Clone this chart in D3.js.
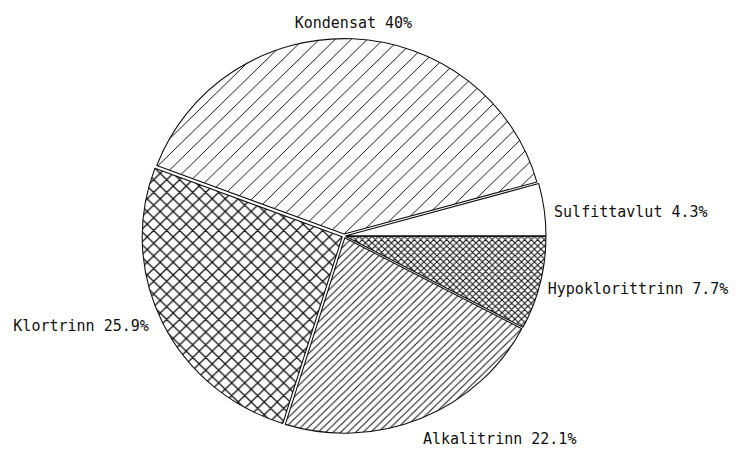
<!DOCTYPE html>
<html>
<head>
<meta charset="utf-8">
<script src="https://cdn.jsdelivr.net/npm/d3@7"></script>
<style>
  body { margin: 0; background: #fff; }
  text { font-family: "DejaVu Sans Mono", monospace; fill: #111; }
</style>
</head>
<body>
<svg id="chart"></svg>
<script>
var width = 738,
    height = 449

var labels = ["Kondensat", "Sulfittavlut", "Hypoklorittrinn", "Alkalitrinn", "Klortrinn"];
var values = [40, 4.3, 7.7, 22.1, 25.9];
var valueLabels = ["40%", "4.3%", "7.7%", "22.1%", "25.9%"];
var fills = ["hatchWide", "none", "crossFine", "hatchFine", "crossWide"];

var cx = 344, cy = 236, radius = 200, yScale = 0.977;
var explode = 2;

var svg = d3.select("svg#chart")
    .attr("width", width)
    .attr("height", height);

var defs = svg.append("defs");

// diagonal "/" hatch
function hatch(id, size, sw) {
    var p = defs.append("pattern")
        .attr("id", id)
        .attr("patternUnits", "userSpaceOnUse")
        .attr("width", size)
        .attr("height", size);
    p.append("rect").attr("width", size).attr("height", size).attr("fill", "#fff");
    p.append("path")
        .attr("d", "M0," + size + " L" + size + ",0 M-1,1 L1,-1 M" + (size - 1) + "," + (size + 1) + " L" + (size + 1) + "," + (size - 1))
        .attr("stroke", "#111")
        .attr("stroke-width", sw);
}
// cross hatch
function cross(id, size, sw) {
    var p = defs.append("pattern")
        .attr("id", id)
        .attr("patternUnits", "userSpaceOnUse")
        .attr("width", size)
        .attr("height", size);
    p.append("rect").attr("width", size).attr("height", size).attr("fill", "#fff");
    p.append("path")
        .attr("d", "M0," + size + " L" + size + ",0 M0,0 L" + size + "," + size +
            " M-1,1 L1,-1 M" + (size - 1) + "," + (size + 1) + " L" + (size + 1) + "," + (size - 1) +
            " M-1," + (size - 1) + " L1," + (size + 1) + " M" + (size - 1) + ",-1 L" + (size + 1) + ",1")
        .attr("stroke", "#111")
        .attr("stroke-width", sw);
}
hatch("hatchWide", 16, 1);
hatch("hatchFine", 7.5, 1);
cross("crossWide", 13, 1.3);
cross("crossFine", 6.5, 1.1);

var total = d3.sum(values);
var start = Math.PI / 2 - 2 * Math.PI * (values[0] + values[1]) / total;

var pie = d3.pie()
    .sort(null)
    .startAngle(start)
    .endAngle(start + 2 * Math.PI);

var arcs = pie(values);

var arc = d3.arc()
    .innerRadius(0)
    .outerRadius(radius);

var g = svg.append("g")
    .attr("transform", "translate(" + cx + "," + cy + ") scale(1," + yScale + ")");

g.selectAll("path")
    .data(arcs)
    .enter()
    .append("path")
    .attr("transform", function(d) {
        var a = (d.startAngle + d.endAngle) / 2;
        return "translate(" + (Math.sin(a) * explode) + "," + (-Math.cos(a) * explode) + ")";
    })
    .attr("d", arc)
    .attr("fill", function(d, i) {
        return fills[i] == "none" ? "#fff" : "url(#" + fills[i] + ")";
    })
    .attr("stroke", "#111")
    .attr("stroke-width", 1.1)
    .attr("stroke-linejoin", "round");

var labelRadius = 214;
// small hand nudges so labels sit like the plotter put them
var nudge = [[0, -4], [-2, 4], [-4, 3], [-3, 10], [-3, -2]];

svg.selectAll("text.label")
    .data(arcs)
    .enter()
    .append("text")
    .attr("class", "label")
    .attr("x", function(d, i) {
        var a = (d.startAngle + d.endAngle) / 2;
        return cx + Math.sin(a) * labelRadius + nudge[i][0];
    })
    .attr("y", function(d, i) {
        var a = (d.startAngle + d.endAngle) / 2;
        return cy - Math.cos(a) * labelRadius * yScale + 5 + nudge[i][1];
    })
    .attr("text-anchor", function(d) {
        var s = Math.sin((d.startAngle + d.endAngle) / 2);
        return Math.abs(s) < 0.2 ? "middle" : (s > 0 ? "start" : "end");
    })
    .attr("font-size", 15)
    .text(function(d, i) {
        return labels[i] + " " + valueLabels[i];
    })
</script>
</body>
</html>
